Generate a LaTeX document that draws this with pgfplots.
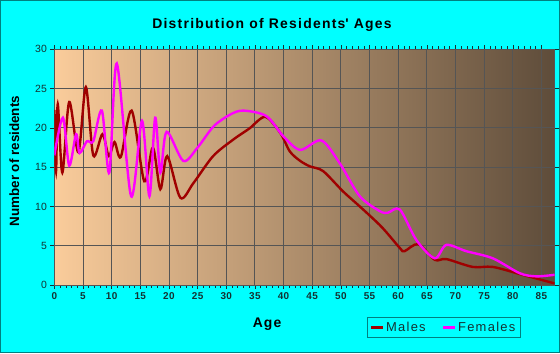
\documentclass[border=0pt]{standalone}
\usepackage{pgfplots}
\pgfplotsset{compat=1.18}
\usepackage{fontspec}
\setmainfont{Liberation Sans}
\definecolor{bgcyan}{RGB}{0,255,255}
\definecolor{edge}{RGB}{0,128,128}
\definecolor{males}{RGB}{160,0,0}
\definecolor{females}{RGB}{255,0,255}
\definecolor{gleft}{RGB}{250,204,155}
\definecolor{gmid}{RGB}{208,163,120}
\definecolor{gright}{RGB}{94,76,58}
\definecolor{gridc}{RGB}{85,85,85}
\definecolor{txt}{RGB}{20,50,50}
\pgfplotstableread{
x y
0 22.3
0.3 14.5
0.6 23.0
1.4 14.3
2.6 23.3
4.2 16.9
5.5 25.2
6.8 16.5
8.4 19.2
9.5 16.4
10.5 18.2
11.6 16.3
13.5 22.2
15.7 13.2
17.2 17.5
18.5 12.2
19.7 16.4
22.0 11.1
24.3 13.0
27.7 16.4
31.2 18.5
34.0 19.9
36.8 21.4
39.4 19.4
41.1 17.0
42.9 15.8
44.6 15.1
46.9 14.5
50.4 11.9
53.3 10.0
57.1 7.4
60.3 4.7
61.1 4.3
63.5 5.2
66.4 3.2
68.4 3.3
73.0 2.3
76.5 2.3
81.2 1.4
87.3 0.2
}\males
\pgfplotstableread{
x y
0 16.5
1.5 21.3
2.6 15.2
3.8 19.2
4.4 16.8
5.7 18.3
6.8 18.3
8.3 22.2
9.6 14.3
10.9 28.2
13.4 11.3
15.3 20.9
16.6 11.3
17.6 21.3
18.5 14.3
19.6 19.5
22.5 15.8
25.0 17.5
27.8 20.2
30.7 21.7
33.0 22.2
37.0 21.5
40.0 18.9
42.9 17.2
46.6 18.4
49.8 15.5
53.3 11.3
56.8 9.4
58.2 9.2
60.3 9.6
63.2 5.7
66.4 3.4
68.4 5.1
71.9 4.3
76.5 3.4
81.2 1.5
84.1 1.1
87.3 1.3
}\females
\begin{document}
\begin{tikzpicture}
\fill[bgcyan, draw=edge, line width=0.8bp] (-54bp,-68bp) rectangle (506bp,285bp);
\begin{axis}[
  at={(0,0)}, anchor=south west,
  scale only axis, width=501bp, height=236bp,
  xmin=0, xmax=87.3, ymin=0, ymax=30,
  xtick={0,5,...,85}, ytick={0,5,...,30},
  minor x tick num=4,
  tick align=outside,
  major tick length=4bp, minor tick length=3bp,
  tick style={color=txt, line width=0.5bp},
  grid=major,
  major grid style={color=gridc, line width=0.8bp},
  axis line style={color=gridc, line width=0.8bp},
  axis background/.style={shade, shading=axis, shading angle=90, left color=gleft, middle color=gmid, right color=gright},
  /pgf/number format/assume math mode=true,
  xticklabel style={font=\bfseries\fontsize{10}{12}\selectfont\addfontfeatures{LetterSpace=4}, text=txt},
  yticklabel style={font=\fontsize{10.5}{12}\selectfont, text=txt},
  legend columns=2,
  legend style={at={(0.778,-0.181)}, anchor=center, draw=edge, fill=bgcyan, line width=0.8bp,
    font=\fontsize{13}{15}\selectfont\addfontfeatures{LetterSpace=10}, text=txt,
    /tikz/every even column/.append style={column sep=14bp}, inner sep=2.5bp},
  legend image code/.code={\draw[#1, line width=2.4bp] (0bp,0bp) -- (12bp,0bp);},
]
\addplot[males, line width=2.4bp, smooth, tension=0.5] table {\males};
\addlegendentry{Males}
\addplot[females, line width=2.4bp, smooth, tension=0.5] table {\females};
\addlegendentry{Females}
\end{axis}
\node[font=\bfseries\fontsize{14}{16}\selectfont\addfontfeatures{LetterSpace=9}] at (218bp,260bp) {Distribution of Residents\textquotesingle\ Ages};
\node[font=\bfseries\fontsize{13.5}{16}\selectfont, rotate=90] at (-40bp,124bp) {Number of residents};
\node[font=\bfseries\fontsize{14}{16}\selectfont\addfontfeatures{LetterSpace=8}] at (213bp,-39bp) {Age};
\end{tikzpicture}
\end{document}
